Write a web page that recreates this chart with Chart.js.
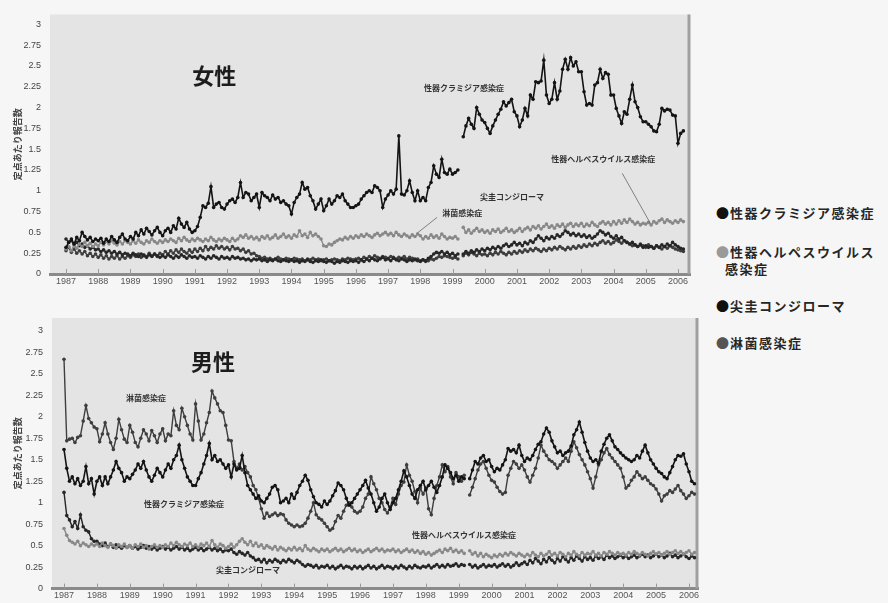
<!DOCTYPE html>
<html>
<head>
<meta charset="utf-8">
<script src="https://cdn.jsdelivr.net/npm/chart.js@4.4.1/dist/chart.umd.min.js"></script>
<style>
  html, body { margin: 0; padding: 0; background: #f6f6f6; width: 888px; height: 603px; overflow: hidden; }
  .panel { position: absolute; left: 0; }
  #topPanel { top: 0; width: 700px; height: 300px; }
  #bottomPanel { top: 300px; width: 710px; height: 303px; }
  .legend { position: absolute; left: 716px; top: 204px; font: bold 13px 'Noto Sans CJK JP', sans-serif;
            color: #262626; letter-spacing: 1.5px; line-height: 17px; }
  .legend div { position: absolute; white-space: nowrap; }
  .legend .dot { letter-spacing: 0; margin-right: 1px; }
</style>
</head>
<body>
<div id="topPanel" class="panel"><canvas id="femaleChart" width="700" height="300"></canvas></div>
<div id="bottomPanel" class="panel"><canvas id="maleChart" width="710" height="303"></canvas></div>
<div class="legend">
  <div style="top:0"><span class="dot" style="color:#111">●</span>性器クラミジア感染症</div>
  <div style="top:39px"><span class="dot" style="color:#9a9a9a">●</span>性器ヘルペスウイルス<br>&nbsp;&nbsp;感染症</div>
  <div style="top:93px"><span class="dot" style="color:#111">●</span>尖圭コンジローマ</div>
  <div style="top:130px"><span class="dot" style="color:#555">●</span>淋菌感染症</div>
</div>
<script>
// monthly data, old system Jan 1987 - Mar 1999, new system May 1999 - Mar 2006
const oldStart = 1987;
const newStart = 1999 + 4 / 12;
const gapAt = 1999.25;
const yearTicks = [1987, 1988, 1989, 1990, 1991, 1992, 1993, 1994, 1995, 1996, 1997, 1998, 1999,
                   2000, 2001, 2002, 2003, 2004, 2005, 2006];
const valueTicks = [0, 0.25, 0.5, 0.75, 1, 1.25, 1.5, 1.75, 2, 2.25, 2.5, 2.75, 3];
const diseases = ['性器クラミジア感染症', '性器ヘルペスウイルス感染症', '尖圭コンジローマ', '淋菌感染症'];
const yTitle = '定点あたり報告数';

// ---- 女性 ----
const femaleChlamydiaOld = [
  0.32, 0.38, 0.42, 0.36, 0.44, 0.40, 0.50, 0.45, 0.41, 0.44, 0.39, 0.42,
  0.40, 0.43, 0.37, 0.42, 0.39, 0.45, 0.41, 0.38, 0.44, 0.48, 0.42, 0.40,
  0.45, 0.42, 0.50, 0.46, 0.53, 0.48, 0.55, 0.51, 0.47, 0.52, 0.56, 0.50,
  0.46, 0.52, 0.55, 0.50, 0.58, 0.54, 0.67, 0.60, 0.56, 0.62, 0.54, 0.50,
  0.52, 0.57, 0.68, 0.82, 0.80, 0.85, 1.05, 0.80, 0.84, 0.86, 0.80, 0.78,
  0.84, 0.88, 0.90, 0.86, 0.92, 1.10, 0.92, 0.98, 0.96, 0.88, 0.92, 0.96,
  0.80, 0.98, 0.94, 0.92, 0.88, 0.95, 0.90, 0.92, 0.86, 0.88, 0.84, 0.82,
  0.72, 0.86, 0.92, 0.96, 1.10, 1.02, 1.04, 0.94, 0.88, 0.78, 0.84, 0.90,
  0.76, 0.82, 0.90, 0.84, 0.88, 0.94, 0.92, 0.96, 0.88, 0.84, 0.80, 0.80,
  0.82, 0.84, 0.90, 0.94, 0.98, 1.00, 0.98, 1.06, 1.04, 1.00, 0.80, 0.90,
  0.95, 1.00, 0.96, 1.02, 1.66, 0.96, 0.95, 1.00, 1.12, 0.98, 0.88, 1.00,
  0.88, 0.92, 0.88, 1.04, 1.10, 1.30, 1.20, 1.16, 1.38, 1.22, 1.20, 1.26,
  1.20, 1.22, 1.25
];
const femaleChlamydiaNew = [
  1.65, 1.78, 1.87, 1.80, 1.75, 2.00, 1.92, 1.85,
  1.82, 1.75, 1.69, 1.78, 1.85, 1.92, 1.98, 2.07, 2.02, 2.06, 2.10, 1.95,
  1.90, 1.77, 1.85, 1.99, 1.90, 2.15, 2.10, 2.31, 2.30, 2.32, 2.57, 2.15,
  2.05, 2.10, 2.30, 2.10, 2.20, 2.46, 2.58, 2.46, 2.60, 2.50, 2.55, 2.43,
  2.43, 2.19, 2.03, 2.05, 2.03, 2.27, 2.30, 2.46, 2.35, 2.42, 2.40, 2.15,
  2.15, 1.99, 1.90, 1.81, 1.95, 1.92, 2.10, 2.27, 2.07, 2.00, 1.89, 1.83,
  1.83, 1.80, 1.77, 1.72, 1.71, 1.80, 1.99, 1.96, 1.98, 1.97, 1.91, 1.90,
  1.57, 1.69, 1.72
];
const femaleHerpesOld = [
  0.30, 0.33, 0.28, 0.35, 0.31, 0.36, 0.33, 0.38, 0.34, 0.37, 0.33, 0.36,
  0.34, 0.38, 0.35, 0.39, 0.36, 0.40, 0.37, 0.35, 0.39, 0.36, 0.40, 0.38,
  0.36, 0.40, 0.37, 0.41, 0.38, 0.36, 0.40, 0.38, 0.42, 0.39, 0.37, 0.40,
  0.38, 0.41, 0.39, 0.42, 0.40, 0.38, 0.43, 0.40, 0.44, 0.41, 0.39, 0.42,
  0.40, 0.43, 0.41, 0.39, 0.42, 0.40, 0.44, 0.41, 0.39, 0.42, 0.40, 0.43,
  0.41, 0.39, 0.43, 0.40, 0.42, 0.46, 0.44, 0.47, 0.43, 0.45, 0.42, 0.44,
  0.41, 0.45, 0.43, 0.46, 0.42, 0.44, 0.47, 0.43, 0.45, 0.48, 0.44, 0.46,
  0.43, 0.47, 0.45, 0.52, 0.46, 0.48, 0.44, 0.50, 0.46, 0.48, 0.45, 0.42,
  0.34, 0.33, 0.36, 0.35, 0.38, 0.40, 0.42, 0.41, 0.44, 0.42, 0.45, 0.43,
  0.46, 0.44, 0.47, 0.45, 0.48, 0.46, 0.44, 0.47, 0.49, 0.46, 0.48, 0.50,
  0.47, 0.49, 0.46, 0.50, 0.47, 0.45, 0.48, 0.46, 0.44, 0.47, 0.45, 0.48,
  0.46, 0.42, 0.45, 0.43, 0.47, 0.44, 0.46, 0.43, 0.48, 0.45, 0.42, 0.44,
  0.43, 0.45, 0.42
];
const femaleHerpesNew = [
  0.56, 0.50, 0.53, 0.49, 0.52, 0.55, 0.51, 0.53,
  0.50, 0.52, 0.49, 0.53, 0.51, 0.54, 0.50, 0.52, 0.55, 0.51, 0.53, 0.50,
  0.52, 0.55, 0.51, 0.54, 0.56, 0.53, 0.57, 0.55, 0.58, 0.54, 0.57, 0.60,
  0.56, 0.58, 0.55, 0.59, 0.57, 0.60, 0.56, 0.59, 0.61, 0.57, 0.60, 0.58,
  0.61, 0.57, 0.60, 0.58, 0.62, 0.59, 0.57, 0.61, 0.63, 0.60, 0.62, 0.59,
  0.63, 0.60, 0.64, 0.61, 0.65, 0.62, 0.66, 0.63, 0.60, 0.62, 0.59, 0.61,
  0.60, 0.62, 0.59, 0.63, 0.61, 0.64, 0.66, 0.62, 0.65, 0.63, 0.61, 0.64,
  0.62, 0.65, 0.63
];
const femaleCondylomaOld = [
  0.42, 0.38, 0.40, 0.36, 0.38, 0.34, 0.36, 0.32, 0.34, 0.30, 0.32, 0.29,
  0.30, 0.27, 0.29, 0.26, 0.28, 0.25, 0.27, 0.24, 0.26, 0.23, 0.25, 0.24,
  0.22, 0.25, 0.23, 0.21, 0.24, 0.22, 0.20, 0.23, 0.21, 0.24, 0.22, 0.20,
  0.22, 0.20, 0.23, 0.21, 0.19, 0.22, 0.20, 0.23, 0.21, 0.19, 0.22, 0.20,
  0.21, 0.19, 0.22, 0.20, 0.18, 0.21, 0.19, 0.22, 0.20, 0.18, 0.21, 0.19,
  0.20, 0.18, 0.21, 0.19, 0.20, 0.18, 0.19, 0.17, 0.18, 0.16, 0.18, 0.17,
  0.18, 0.16, 0.17, 0.15, 0.17, 0.16, 0.18, 0.16, 0.15, 0.17, 0.16, 0.15,
  0.17, 0.15, 0.16, 0.14, 0.16, 0.15, 0.17, 0.15, 0.14, 0.16, 0.15, 0.17,
  0.15, 0.14, 0.16, 0.15, 0.13, 0.15, 0.14, 0.16, 0.15, 0.14, 0.16, 0.15,
  0.16, 0.14, 0.17, 0.15, 0.18, 0.16, 0.19, 0.17, 0.16, 0.18, 0.20, 0.17,
  0.18, 0.16, 0.19, 0.17, 0.16, 0.18, 0.17, 0.15, 0.17, 0.16, 0.18, 0.16,
  0.15, 0.17, 0.16, 0.19, 0.21, 0.24, 0.26, 0.25, 0.27, 0.24, 0.26, 0.23,
  0.25, 0.22, 0.24
];
const femaleCondylomaNew = [
  0.24, 0.27, 0.25, 0.28, 0.26, 0.29, 0.27, 0.30,
  0.28, 0.31, 0.29, 0.32, 0.30, 0.33, 0.31, 0.34, 0.36, 0.33, 0.35, 0.38,
  0.35, 0.37, 0.34, 0.38, 0.36, 0.40, 0.38, 0.42, 0.46, 0.43, 0.40, 0.44,
  0.42, 0.45, 0.43, 0.47, 0.45, 0.48, 0.52, 0.50, 0.47, 0.49, 0.46, 0.48,
  0.45, 0.47, 0.44, 0.46, 0.43, 0.45, 0.48, 0.52, 0.50, 0.47, 0.49, 0.45,
  0.43, 0.46, 0.42, 0.44, 0.40, 0.38, 0.36, 0.38, 0.35, 0.33, 0.35, 0.32,
  0.34, 0.32, 0.33, 0.31, 0.34, 0.32, 0.35, 0.33, 0.36, 0.34, 0.38, 0.35,
  0.33, 0.31, 0.30
];
const femaleGonorrheaOld = [
  0.28, 0.32, 0.26, 0.30, 0.25, 0.28, 0.24, 0.27, 0.22, 0.25, 0.21, 0.24,
  0.20, 0.23, 0.19, 0.22, 0.18, 0.21, 0.19, 0.22, 0.18, 0.21, 0.19, 0.22,
  0.20, 0.23, 0.21, 0.24, 0.20, 0.23, 0.21, 0.25, 0.22, 0.24, 0.21, 0.25,
  0.23, 0.27, 0.24, 0.28, 0.25, 0.29, 0.26, 0.30, 0.27, 0.25, 0.29, 0.26,
  0.30, 0.27, 0.31, 0.28, 0.33, 0.29, 0.32, 0.30, 0.34, 0.31, 0.33, 0.30,
  0.32, 0.29, 0.33, 0.30, 0.31, 0.28, 0.30, 0.26, 0.28, 0.24, 0.25, 0.22,
  0.21, 0.19, 0.20, 0.18, 0.19, 0.17, 0.18, 0.20, 0.18, 0.17, 0.19, 0.18,
  0.17, 0.19, 0.18, 0.17, 0.18, 0.16, 0.18, 0.17, 0.19, 0.17, 0.18, 0.16,
  0.17, 0.18, 0.16, 0.17, 0.18, 0.17, 0.16, 0.18, 0.17, 0.19, 0.18, 0.17,
  0.18, 0.19, 0.17, 0.20, 0.18, 0.21, 0.19, 0.22, 0.20, 0.19, 0.21, 0.20,
  0.19, 0.21, 0.20, 0.18, 0.20, 0.19, 0.21, 0.18, 0.20, 0.19, 0.17, 0.18,
  0.16, 0.17, 0.15, 0.16, 0.18, 0.17, 0.19, 0.21, 0.20, 0.22, 0.21, 0.20,
  0.19, 0.20, 0.18
];
const femaleGonorrheaNew = [
  0.22, 0.25, 0.23, 0.26, 0.24, 0.22, 0.25, 0.23,
  0.24, 0.22, 0.25, 0.23, 0.26, 0.24, 0.27, 0.25, 0.23, 0.26, 0.24, 0.27,
  0.25, 0.28, 0.26, 0.29, 0.27, 0.30, 0.28, 0.31, 0.29, 0.27, 0.30, 0.28,
  0.31, 0.29, 0.32, 0.30, 0.33, 0.31, 0.29, 0.32, 0.30, 0.33, 0.31, 0.34,
  0.32, 0.35, 0.33, 0.36, 0.34, 0.37, 0.35, 0.38, 0.40, 0.37, 0.39, 0.36,
  0.38, 0.41, 0.39, 0.37, 0.40, 0.38, 0.36, 0.34, 0.35, 0.33, 0.36, 0.34,
  0.32, 0.35, 0.33, 0.31, 0.34, 0.32, 0.30, 0.33, 0.31, 0.34, 0.32, 0.30,
  0.29, 0.28, 0.27
];

// ---- 男性 ----
const maleChlamydiaOld = [
  1.62, 1.40, 1.25, 1.30, 1.22, 1.28, 1.20, 1.25, 1.42, 1.22, 1.28, 1.10,
  1.25, 1.30, 1.20, 1.30, 1.22, 1.30, 1.38, 1.48, 1.40, 1.35, 1.25, 1.30,
  1.28, 1.33, 1.38, 1.45, 1.40, 1.48, 1.38, 1.30, 1.25, 1.32, 1.40, 1.35,
  1.30, 1.38, 1.45, 1.40, 1.50, 1.55, 1.67, 1.50, 1.40, 1.30, 1.25, 1.20,
  1.20, 1.28, 1.35, 1.45, 1.55, 1.69, 1.50, 1.55, 1.48, 1.50, 1.45, 1.40,
  1.44, 1.30, 1.45, 1.38, 1.40, 1.55, 1.35, 1.20, 1.15, 1.10, 1.05, 1.08,
  1.02, 1.00, 1.05, 1.10, 1.18, 1.20, 1.15, 1.00, 1.02, 1.05, 1.00, 1.10,
  1.05, 1.12, 1.20, 1.25, 1.32, 1.26, 1.15, 1.07, 1.00, 0.98, 0.95, 1.02,
  0.98, 1.02, 1.08, 1.14, 1.23, 1.20, 1.15, 1.05, 0.97, 1.00, 1.05, 1.10,
  1.15, 1.20, 1.26, 1.17, 1.10, 1.00, 0.90, 0.95, 1.05, 1.10, 1.00, 0.92,
  1.00, 1.05, 1.15, 1.25, 1.37, 1.30, 1.20, 1.10, 1.05, 1.15, 1.20, 1.25,
  1.15, 1.20, 1.25, 1.18, 1.12, 1.20, 1.30, 1.44, 1.40, 1.35, 1.28, 1.32,
  1.25, 1.30, 1.28
];
const maleChlamydiaNew = [
  1.28, 1.38, 1.48, 1.45, 1.52, 1.55, 1.48, 1.50,
  1.42, 1.36, 1.40, 1.38, 1.44, 1.50, 1.63, 1.60, 1.62, 1.58, 1.67, 1.55,
  1.48, 1.52, 1.50, 1.55, 1.62, 1.68, 1.71, 1.80, 1.87, 1.82, 1.72, 1.65,
  1.58, 1.60, 1.55, 1.58, 1.60, 1.66, 1.79, 1.85, 1.94, 1.82, 1.70, 1.60,
  1.52, 1.48, 1.50, 1.46, 1.60, 1.68, 1.75, 1.79, 1.72, 1.65, 1.62, 1.58,
  1.55, 1.52, 1.50, 1.48, 1.50, 1.55, 1.52, 1.60, 1.67, 1.58, 1.50, 1.45,
  1.40, 1.36, 1.34, 1.30, 1.28, 1.35, 1.42, 1.50, 1.55, 1.54, 1.57, 1.45,
  1.36, 1.25, 1.22
];
const maleHerpesOld = [
  0.70, 0.62, 0.56, 0.54, 0.52, 0.55, 0.50, 0.53, 0.51, 0.49, 0.52, 0.50,
  0.52, 0.49, 0.53, 0.50, 0.48, 0.52, 0.50, 0.47, 0.51, 0.49, 0.52, 0.48,
  0.50, 0.47, 0.51, 0.49, 0.52, 0.48, 0.50, 0.46, 0.49, 0.51, 0.48, 0.50,
  0.48, 0.51, 0.49, 0.53, 0.50, 0.54, 0.51, 0.49, 0.52, 0.50, 0.53, 0.49,
  0.51, 0.48, 0.52, 0.50, 0.53, 0.49, 0.56, 0.51, 0.48, 0.52, 0.50, 0.47,
  0.49, 0.52, 0.48, 0.51, 0.55, 0.58, 0.54, 0.51, 0.55, 0.50, 0.53, 0.49,
  0.51, 0.47, 0.50, 0.48, 0.46, 0.49, 0.45, 0.48, 0.46, 0.44, 0.47, 0.45,
  0.48, 0.45, 0.47, 0.44, 0.50, 0.46, 0.44, 0.47, 0.45, 0.43, 0.46, 0.44,
  0.46, 0.43, 0.45, 0.47, 0.44, 0.46, 0.43, 0.45, 0.47, 0.44, 0.46, 0.43,
  0.45, 0.42, 0.44, 0.46, 0.43, 0.45, 0.47, 0.44, 0.46, 0.43, 0.45, 0.44,
  0.46, 0.43, 0.45, 0.42, 0.44, 0.46, 0.43, 0.45, 0.42, 0.44, 0.41, 0.43,
  0.40, 0.42, 0.39, 0.41, 0.43, 0.45, 0.42, 0.46, 0.44, 0.47, 0.43, 0.45,
  0.42, 0.44, 0.41
];
const maleHerpesNew = [
  0.44, 0.40, 0.42, 0.38, 0.41, 0.37, 0.40, 0.38,
  0.36, 0.39, 0.37, 0.40, 0.38, 0.41, 0.39, 0.42, 0.40, 0.38, 0.41, 0.39,
  0.37, 0.40, 0.38, 0.42, 0.39, 0.37, 0.41, 0.38, 0.40, 0.43, 0.39, 0.41,
  0.38, 0.42, 0.40, 0.37, 0.41, 0.39, 0.43, 0.40, 0.38, 0.42, 0.39, 0.41,
  0.40, 0.43, 0.39, 0.41, 0.38, 0.42, 0.40, 0.43, 0.41, 0.39, 0.42, 0.40,
  0.41, 0.39, 0.42, 0.40, 0.43, 0.41, 0.39, 0.42, 0.40, 0.38, 0.41, 0.43,
  0.40, 0.42, 0.39, 0.41, 0.43, 0.40, 0.42, 0.44, 0.41, 0.43, 0.40, 0.42,
  0.44, 0.40, 0.42
];
const maleCondylomaOld = [
  1.12, 0.85, 0.80, 0.72, 0.78, 0.70, 0.86, 0.72, 0.68, 0.66, 0.58, 0.55,
  0.55, 0.52, 0.50, 0.53, 0.49, 0.52, 0.48, 0.51, 0.49, 0.47, 0.50, 0.48,
  0.50, 0.47, 0.49, 0.46, 0.48, 0.50, 0.47, 0.49, 0.46, 0.48, 0.45, 0.47,
  0.49, 0.46, 0.48, 0.45, 0.47, 0.49, 0.46, 0.48, 0.45, 0.47, 0.44, 0.46,
  0.48, 0.45, 0.47, 0.44, 0.46, 0.48, 0.45, 0.47, 0.44, 0.46, 0.43, 0.45,
  0.44, 0.46, 0.42, 0.40, 0.43, 0.41, 0.39, 0.42, 0.38, 0.36, 0.33, 0.34,
  0.31, 0.34, 0.30, 0.33, 0.31, 0.34, 0.32, 0.30, 0.33, 0.31, 0.34, 0.32,
  0.30, 0.33, 0.31, 0.28, 0.26, 0.28, 0.27, 0.25, 0.27, 0.24, 0.26, 0.25,
  0.27, 0.24, 0.26, 0.23, 0.25, 0.27, 0.24, 0.26, 0.25, 0.23, 0.26, 0.24,
  0.26, 0.23, 0.25, 0.27, 0.24, 0.26, 0.23, 0.25, 0.27, 0.24, 0.26, 0.25,
  0.23, 0.26, 0.24, 0.27, 0.25, 0.23, 0.26, 0.24, 0.27, 0.25, 0.24, 0.26,
  0.25, 0.27, 0.24, 0.26, 0.28, 0.25, 0.27, 0.25, 0.28, 0.26, 0.27, 0.29,
  0.26, 0.28, 0.27
];
const maleCondylomaNew = [
  0.28, 0.25, 0.27, 0.24, 0.26, 0.28, 0.25, 0.27,
  0.26, 0.28, 0.25, 0.27, 0.29, 0.26, 0.28, 0.25, 0.27, 0.30, 0.27, 0.29,
  0.31, 0.28, 0.33, 0.30, 0.35, 0.32, 0.29, 0.34, 0.31, 0.36, 0.33, 0.30,
  0.35, 0.32, 0.37, 0.34, 0.31, 0.36, 0.33, 0.38, 0.35, 0.32, 0.37, 0.34,
  0.36, 0.33, 0.38, 0.35, 0.37, 0.34, 0.39, 0.36, 0.38, 0.35, 0.37, 0.39,
  0.36, 0.38, 0.35, 0.37, 0.39, 0.36, 0.38, 0.40, 0.37, 0.39, 0.36, 0.38,
  0.40, 0.37, 0.39, 0.36, 0.38, 0.41, 0.37, 0.39, 0.36, 0.38, 0.40, 0.37,
  0.35, 0.38, 0.36
];
const maleGonorrheaOld = [
  2.67, 1.72, 1.74, 1.75, 1.70, 1.76, 1.78, 1.95, 2.13, 1.98, 1.93, 1.88,
  1.86, 1.71, 1.80, 1.93, 1.80, 1.70, 1.62, 1.75, 1.97, 1.85, 1.74, 1.70,
  1.90, 1.82, 1.70, 1.65, 1.75, 1.85, 1.80, 1.72, 1.84, 1.78, 1.70, 1.80,
  1.86, 1.72, 1.80, 1.78, 2.07, 1.90, 1.85, 2.10, 2.00, 1.90, 1.80, 1.73,
  2.15, 1.95, 1.73, 1.80, 1.93, 2.05, 2.30, 2.22, 2.15, 2.07, 2.05, 1.90,
  1.73, 1.72, 1.48, 1.40, 1.45, 1.38, 1.42, 1.35, 1.30, 1.20, 1.15, 1.05,
  0.93, 0.82, 0.88, 0.84, 0.86, 0.88, 0.85, 0.87, 0.86, 0.80, 0.76, 0.74,
  0.72, 0.74, 0.72, 0.73, 0.76, 0.82, 0.90, 1.00, 0.86, 0.82, 0.80, 0.76,
  0.72, 0.68, 0.70, 0.78, 0.85, 0.82, 0.90, 0.97, 1.00, 0.95, 0.90, 0.88,
  0.90, 0.95, 1.05, 1.10, 1.30, 1.22, 1.15, 1.05, 1.00, 0.92, 0.88, 0.95,
  1.05, 0.98, 1.10, 1.20, 1.24, 1.44, 1.32, 1.25, 1.13, 1.00, 1.17, 1.10,
  1.17, 0.93, 0.86, 1.05, 1.20, 1.30, 1.44, 1.36, 1.42, 1.30, 1.22, 1.35,
  1.30, 1.25, 1.32
];
const maleGonorrheaNew = [
  1.09, 1.18, 1.28, 1.38, 1.45, 1.48, 1.40, 1.32,
  1.26, 1.24, 1.18, 1.13, 1.10, 1.12, 1.32, 1.40, 1.48, 1.45, 1.40, 1.44,
  1.38, 1.30, 1.24, 1.32, 1.40, 1.52, 1.67, 1.60, 1.55, 1.50, 1.48, 1.45,
  1.40, 1.44, 1.48, 1.52, 1.48, 1.60, 1.71, 1.64, 1.56, 1.50, 1.44, 1.36,
  1.28, 1.17, 1.30, 1.44, 1.50, 1.58, 1.63, 1.56, 1.52, 1.48, 1.44, 1.40,
  1.30, 1.17, 1.20, 1.26, 1.30, 1.36, 1.32, 1.28, 1.30, 1.26, 1.22, 1.20,
  1.16, 1.10, 1.02, 1.08, 1.10, 1.14, 1.12, 1.16, 1.20, 1.14, 1.10, 1.05,
  1.08, 1.12, 1.10
];

// in-plot labels: [text, year, value]
const femaleNotes = [
  ['性器クラミジア感染症', 1999.36, 2.23],
  ['性器ヘルペスウイルス感染症', 2003.68, 1.38],
  ['尖圭コンジローマ', 2000.85, 0.93],
  ['淋菌感染症', 1999.3, 0.73]
];
const femaleLeaders = [
  [2004.27, 1.21, 2005.14, 0.61],
  [1998.52, 0.68, 1997.9, 0.49]
];
const maleNotes = [
  ['淋菌感染症', 1989.49, 2.22],
  ['性器クラミジア感染症', 1990.65, 0.99],
  ['性器ヘルペスウイルス感染症', 1999.16, 0.62],
  ['尖圭コンジローマ', 1992.59, 0.22]
];

const lineColors = ['#141414', '#888888', '#262626', '#3e3e3e'];

function toPoints(oldVals, newVals) {
  const pts = oldVals.map((v, i) => ({ x: oldStart + i / 12, y: v }));
  pts.push({ x: gapAt, y: null });
  newVals.forEach((v, i) => pts.push({ x: newStart + i / 12, y: v }));
  return pts;
}

function makeDatasets(series) {
  return series.map((s, i) => ({
    label: diseases[i],
    data: toPoints(s[0], s[1]),
    borderColor: lineColors[i],
    backgroundColor: lineColors[i],
    borderWidth: i === 0 ? 1.6 : 1.4,
    pointRadius: 1.8,
    pointBorderWidth: 0,
    pointBackgroundColor: lineColors[i],
    spanGaps: false,
    tension: 0
  }));
}

function panelPlugin(title, titleAt, notes, leaders) {
  return {
    id: 'panelDecor',
    beforeDraw(chart) {
      const { ctx, chartArea: a } = chart;
      ctx.save();
      ctx.fillStyle = '#e4e4e4';
      ctx.fillRect(a.left, a.top, a.right - a.left, a.bottom - a.top);
      ctx.restore();
    },
    beforeDatasetsDraw(chart) {
      const { ctx, chartArea: a, scales } = chart;
      ctx.save();
      ctx.strokeStyle = '#9a9a9a';
      ctx.lineWidth = 1;
      yearTicks.forEach(v => {
        const px = Math.round(scales.x.getPixelForValue(v)) + 0.5;
        ctx.beginPath();
        ctx.moveTo(px, a.bottom);
        ctx.lineTo(px, a.bottom - 5);
        ctx.stroke();
      });
      ctx.strokeStyle = '#a0a0a0';
      ctx.lineWidth = 3;
      ctx.beginPath();
      ctx.moveTo(a.right - 1, a.top);
      ctx.lineTo(a.right - 1, a.bottom);
      ctx.stroke();
      ctx.restore();
    },
    afterDatasetsDraw(chart) {
      const { ctx, scales } = chart;
      ctx.save();
      ctx.fillStyle = '#1c1c1c';
      ctx.textAlign = 'center';
      ctx.textBaseline = 'middle';
      ctx.font = "bold 22px 'Noto Sans CJK JP', sans-serif";
      ctx.fillText(title, scales.x.getPixelForValue(titleAt[0]), scales.y.getPixelForValue(titleAt[1]));
      ctx.font = "bold 8px 'Noto Sans CJK JP', sans-serif";
      ctx.fillStyle = '#333';
      notes.forEach(n => {
        ctx.fillText(n[0], scales.x.getPixelForValue(n[1]), scales.y.getPixelForValue(n[2]));
      });
      ctx.strokeStyle = '#666';
      ctx.lineWidth = 0.8;
      leaders.forEach(l => {
        ctx.beginPath();
        ctx.moveTo(scales.x.getPixelForValue(l[0]), scales.y.getPixelForValue(l[1]));
        ctx.lineTo(scales.x.getPixelForValue(l[2]), scales.y.getPixelForValue(l[3]));
        ctx.stroke();
      });
      ctx.restore();
    }
  };
}

function makeChart(canvasId, series, opts) {
  return new Chart(document.getElementById(canvasId), {
    type: 'line',
    data: { datasets: makeDatasets(series) },
    options: {
      responsive: false,
      animation: false,
      devicePixelRatio: 1,
      layout: { padding: { top: opts.padTop, right: opts.padRight, bottom: 0, left: 0 } },
      plugins: { legend: { display: false }, tooltip: { enabled: false } },
      scales: {
        x: {
          type: 'linear',
          min: opts.xMin,
          max: opts.xMax,
          afterBuildTicks: s => { s.ticks = yearTicks.map(v => ({ value: v })); },
          afterFit: s => { s.height = opts.xHeight; },
          ticks: {
            autoSkip: false,
            maxRotation: 0,
            padding: 2,
            color: '#555',
            font: { size: 9, family: "'Liberation Sans', Arial, sans-serif" },
            callback: v => String(v)
          },
          grid: { display: false, drawTicks: false },
          border: { display: true, color: '#8a8a8a', width: 3 }
        },
        y: {
          min: 0,
          max: opts.yMax,
          afterBuildTicks: s => { s.ticks = valueTicks.map(v => ({ value: v })); },
          afterFit: s => { s.width = opts.yWidth; },
          ticks: {
            padding: 9,
            color: '#444',
            font: { size: 9, family: "'Liberation Sans', Arial, sans-serif" },
            callback: v => String(v)
          },
          grid: { display: false, drawTicks: false },
          border: { display: false },
          title: {
            display: true,
            text: yTitle,
            color: '#444',
            padding: { top: 12, bottom: 0 },
            font: { size: 9, family: "'Noto Sans CJK JP', sans-serif", weight: 'bold' }
          }
        }
      }
    },
    plugins: [panelPlugin(opts.title, opts.titleAt, opts.notes, opts.leaders)]
  });
}

makeChart('femaleChart', [
  [femaleChlamydiaOld, femaleChlamydiaNew],
  [femaleHerpesOld, femaleHerpesNew],
  [femaleCondylomaOld, femaleCondylomaNew],
  [femaleGonorrheaOld, femaleGonorrheaNew]
], {
  padTop: 12, padRight: 10, xHeight: 26, yWidth: 50,
  xMin: 1986.503, xMax: 2006.373, yMax: 3.12,
  title: '女性', titleAt: [1991.6, 2.38],
  notes: femaleNotes, leaders: femaleLeaders
});

makeChart('maleChart', [
  [maleChlamydiaOld, maleChlamydiaNew],
  [maleHerpesOld, maleHerpesNew],
  [maleCondylomaOld, maleCondylomaNew],
  [maleGonorrheaOld, maleGonorrheaNew]
], {
  padTop: 18, padRight: 12, xHeight: 12, yWidth: 52,
  xMin: 1986.635, xMax: 2006.274, yMax: 3.15,
  title: '男性', titleAt: [1991.53, 2.64],
  notes: maleNotes, leaders: []
});
</script>
</body>
</html>
